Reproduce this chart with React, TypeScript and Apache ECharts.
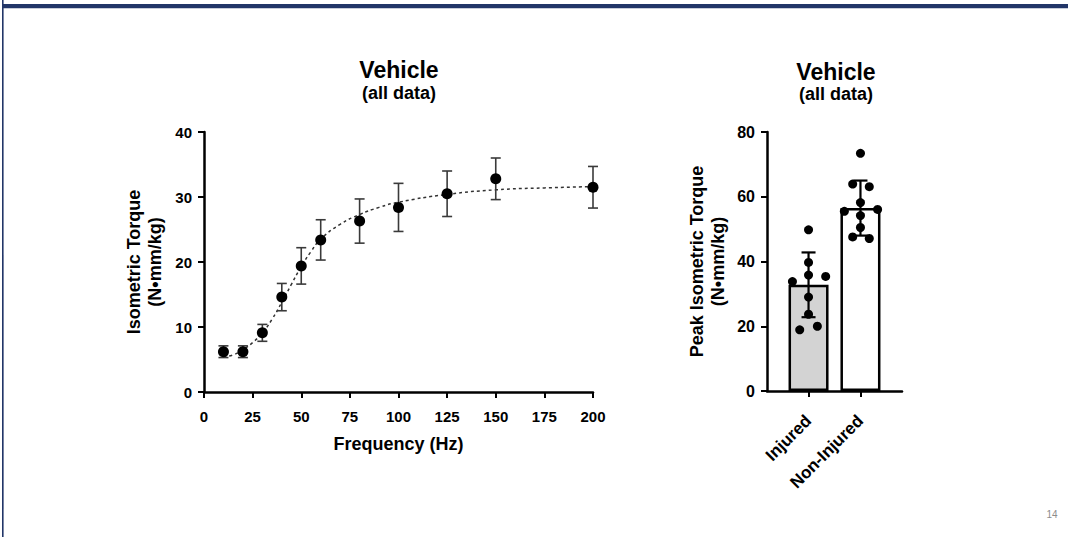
import React, { useEffect, useRef } from "react";
import * as echarts from "echarts";

// Left chart: frequency-torque relationship
const freqHz = [10, 20, 30, 40, 50, 60, 80, 100, 125, 150, 200];
const meanTorque = [6.2, 6.2, 9.1, 14.6, 19.4, 23.4, 26.3, 28.4, 30.5, 32.8, 31.5];
const sdTorque = [0.9, 0.9, 1.3, 2.1, 2.8, 3.1, 3.4, 3.7, 3.5, 3.2, 3.2];
const fitX = [10, 15, 20, 25, 30, 35, 40, 45, 50, 55, 60, 70, 80, 90, 100, 125, 150, 175, 200];
const fitY = [5.4, 5.7, 6.5, 7.6, 9.1, 11.2, 13.8, 16.6, 19.3, 21.6, 23.5, 25.8, 27.3, 28.4, 29.2, 30.4, 31.1, 31.4, 31.6];
const freqTicks = [0, 25, 50, 75, 100, 125, 150, 175, 200];

// Right chart: peak torque per group
const groups = ["Injured", "Non-Injured"];
const groupMean = [32.8, 56.5];
const groupSd = [10.0, 8.5];
const injuredPts = [49.8, 39.7, 35.8, 33.8, 35.4, 29.0, 23.7, 18.9, 20.0];
const injuredJitter = [0, 0, 0, -0.31, 0.33, 0, 0, -0.17, 0.17];
const nonInjuredPts = [73.4, 63.9, 63.1, 58.2, 55.5, 56.1, 54.2, 50.5, 47.6, 47.1];
const nonInjuredJitter = [0, -0.15, 0.17, 0, -0.31, 0.33, 0, 0, -0.15, 0.17];

const FONT = "'Liberation Sans', Arial, sans-serif";

function errorBarRenderer(color: string, width: number, halfCap: number) {
  return (params: any, api: any) => {
    const x = api.value(0);
    const lo = api.value(1);
    const hi = api.value(2);
    const top = api.coord([x, hi]);
    const bot = api.coord([x, lo]);
    const style = { stroke: color, lineWidth: width };
    return {
      type: "group",
      children: [
        { type: "line", shape: { x1: top[0], y1: top[1], x2: bot[0], y2: bot[1] }, style },
        { type: "line", shape: { x1: top[0] - halfCap, y1: top[1], x2: top[0] + halfCap, y2: top[1] }, style },
        { type: "line", shape: { x1: bot[0] - halfCap, y1: bot[1], x2: bot[0] + halfCap, y2: bot[1] }, style },
      ],
    };
  };
}

export default function App() {
  const ref = useRef<HTMLDivElement>(null);

  useEffect(() => {
    if (!ref.current) return;
    const chart = echarts.init(ref.current, undefined, { renderer: "svg" });

    const axisLine = { show: true, lineStyle: { color: "#000", width: 2.5 } };
    const axisTick = { show: true, length: 6, lineStyle: { color: "#000", width: 2 } };
    const labelStyle = { color: "#000", fontWeight: "bold", fontFamily: FONT, fontSize: 15 };
    const nameStyle = { color: "#000", fontWeight: "bold", fontFamily: FONT, fontSize: 18, lineHeight: 21 };

    const scatterGroupData: number[][] = [];
    injuredPts.forEach((v, i) => scatterGroupData.push([1 + injuredJitter[i], v]));
    nonInjuredPts.forEach((v, i) => scatterGroupData.push([2 + nonInjuredJitter[i], v]));

    const option: any = {
      animation: false,
      backgroundColor: "#fff",
      grid: [
        { left: 204, top: 132, width: 389, height: 260 },
        { left: 767, top: 132, width: 135, height: 259 },
      ],
      xAxis: [
        {
          gridIndex: 0,
          type: "value",
          min: 0,
          max: 200,
          interval: 25,
          axisLine,
          axisTick,
          splitLine: { show: false },
          axisLabel: { ...labelStyle, margin: 17, customValues: freqTicks },
          name: "Frequency (Hz)",
          nameLocation: "middle",
          nameGap: 41,
          nameTextStyle: nameStyle,
        },
        {
          gridIndex: 1,
          type: "value",
          min: 0.2,
          max: 2.8,
          axisLine,
          axisTick: { ...axisTick, customValues: [1, 2] },
          splitLine: { show: false },
          axisLabel: {
            ...labelStyle,
            fontSize: 17,
            rotate: 45,
            margin: 27,
            customValues: [1, 2],
            formatter: (v: number) => groups[Math.round(v) - 1] ?? "",
          },
        },
      ],
      yAxis: [
        {
          gridIndex: 0,
          type: "value",
          min: 0,
          max: 40,
          interval: 10,
          axisLine,
          axisTick,
          splitLine: { show: false },
          axisLabel: { ...labelStyle, margin: 12 },
          name: "Isometric Torque\n(N•mm/kg)",
          nameLocation: "middle",
          nameRotate: 90,
          nameGap: 39,
          nameTextStyle: nameStyle,
        },
        {
          gridIndex: 1,
          type: "value",
          min: 0,
          max: 80,
          interval: 20,
          axisLine,
          axisTick,
          splitLine: { show: false },
          axisLabel: { ...labelStyle, fontSize: 16, margin: 12 },
          name: "Peak Isometric Torque\n(N•mm/kg)",
          nameLocation: "middle",
          nameRotate: 90,
          nameGap: 39,
          nameTextStyle: nameStyle,
        },
      ],
      series: [
        {
          type: "line",
          xAxisIndex: 0,
          yAxisIndex: 0,
          data: fitX.map((x, i) => [x, fitY[i]]),
          smooth: true,
          symbol: "none",
          lineStyle: { color: "#333", width: 1.5, type: [3, 3] },
          z: 1,
        },
        {
          type: "custom",
          xAxisIndex: 0,
          yAxisIndex: 0,
          data: freqHz.map((x, i) => [x, meanTorque[i] - sdTorque[i], meanTorque[i] + sdTorque[i]]),
          encode: { x: 0, y: [1, 2] },
          renderItem: errorBarRenderer("#3a3a3a", 1.6, 5),
          z: 2,
        },
        {
          type: "scatter",
          xAxisIndex: 0,
          yAxisIndex: 0,
          data: freqHz.map((x, i) => [x, meanTorque[i]]),
          symbol: "circle",
          symbolSize: 11,
          itemStyle: { color: "#000", opacity: 1 },
          z: 3,
        },
        {
          type: "bar",
          xAxisIndex: 1,
          yAxisIndex: 1,
          barWidth: 40,
          data: [
            { value: [1, groupMean[0]], itemStyle: { color: "#d3d3d3" } },
            { value: [2, groupMean[1]], itemStyle: { color: "#ffffff" } },
          ],
          itemStyle: { borderColor: "#000", borderWidth: 2.5 },
          z: 1,
        },
        {
          type: "custom",
          xAxisIndex: 1,
          yAxisIndex: 1,
          data: groupMean.map((m, i) => [i + 1, m - groupSd[i], m + groupSd[i]]),
          encode: { x: 0, y: [1, 2] },
          renderItem: errorBarRenderer("#000", 2.2, 7),
          z: 3,
        },
        {
          type: "scatter",
          xAxisIndex: 1,
          yAxisIndex: 1,
          data: scatterGroupData,
          symbol: "circle",
          symbolSize: 9,
          itemStyle: { color: "#000", opacity: 1 },
          z: 2,
        },
      ],
      graphic: [
        { type: "rect", shape: { x: 2, y: 0, width: 1.6, height: 537 }, style: { fill: "#223668" }, silent: true },
        { type: "rect", shape: { x: 2, y: 4, width: 1066, height: 4.3 }, style: { fill: "#223668" }, silent: true },
        {
          type: "text",
          x: 399,
          y: 70,
          style: { text: "Vehicle", fontSize: 23, fontWeight: "bold", fontFamily: FONT, fill: "#000", align: "center", verticalAlign: "middle" },
        },
        {
          type: "text",
          x: 399,
          y: 93,
          style: { text: "(all data)", fontSize: 18, fontWeight: "bold", fontFamily: FONT, fill: "#000", align: "center", verticalAlign: "middle" },
        },
        {
          type: "text",
          x: 836,
          y: 72,
          style: { text: "Vehicle", fontSize: 23, fontWeight: "bold", fontFamily: FONT, fill: "#000", align: "center", verticalAlign: "middle" },
        },
        {
          type: "text",
          x: 836,
          y: 94,
          style: { text: "(all data)", fontSize: 18, fontWeight: "bold", fontFamily: FONT, fill: "#000", align: "center", verticalAlign: "middle" },
        },
        {
          type: "text",
          x: 1052,
          y: 514,
          style: { text: "14", fontSize: 10, fontFamily: FONT, fill: "#8c8c8c", align: "center", verticalAlign: "middle" },
        },
      ],
    };

    chart.setOption(option);
    return () => chart.dispose();
  }, []);

  return (
    <div
      ref={ref}
      style={{ position: "absolute", left: 0, top: 0, width: 1068, height: 537, background: "#fff" }}
    />
  );
}
